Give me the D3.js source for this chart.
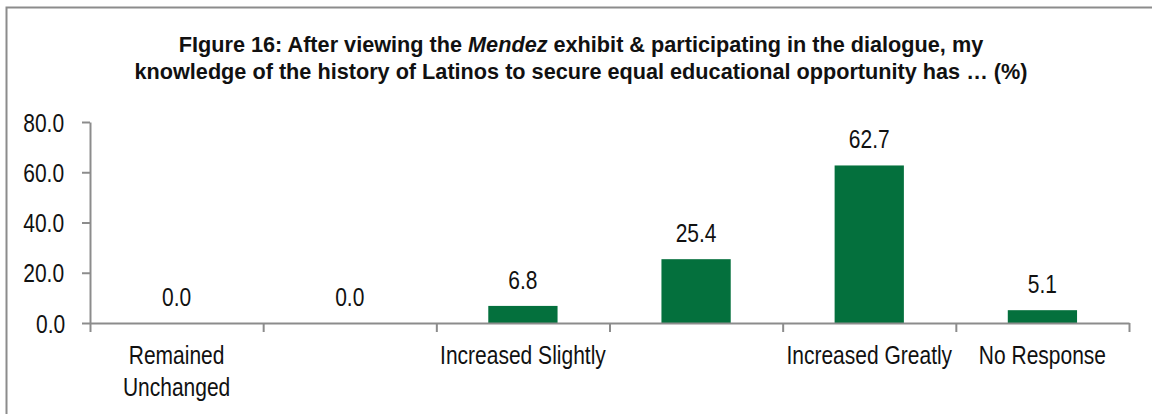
<!DOCTYPE html>
<html>
<head>
<meta charset="utf-8">
<script src="https://cdn.jsdelivr.net/npm/d3@7"></script>
<style>
  body { margin: 0; background: #fff; }
  svg text { font-family: "Liberation Sans", Arial, sans-serif; fill: #111; }
  .sq { transform-box: fill-box; transform-origin: center; transform: scaleX(0.84); }
  .tq { transform-box: fill-box; transform-origin: center; transform: scaleX(0.985); }
</style>
</head>
<body>
<svg id="chart" width="1152" height="414"></svg>
<script>
/*************************Data********************* */
const categories = ["Remained Unchanged", "", "Increased Slightly", "", "Increased Greatly", "No Response"];
const values = [0.0, 0.0, 6.8, 25.4, 62.7, 5.1];
const yTicks = [0, 20, 40, 60, 80];
const titleLines = [
  [["FIgure 16: After viewing the ", false], ["Mendez", true], [" exhibit & participating in the dialogue, my", false]],
  [["knowledge of the history of Latinos to secure equal educational opportunity has \u2026 (%)", false]],
];

/*************************Scales********************* */
const plotLeft = 90, plotRight = 1129, plotTop = 122, plotBottom = 323;
const svg = d3.select("svg#chart");
const grey = "#8c8c8c";

// frame
svg.append("rect").attr("x", 6.5).attr("y", 7.5).attr("width", 1170).attr("height", 430)
  .attr("fill", "none").attr("stroke", grey).attr("stroke-width", 2);

const x = d3.scaleBand().domain(d3.range(categories.length)).range([plotLeft, plotRight]).paddingInner(0.6).paddingOuter(0.3);
const xEdges = d3.scaleLinear().domain([0, categories.length]).range([plotLeft, plotRight]);
const y = d3.scaleLinear().domain([0, 80]).range([plotBottom, plotTop]);

/*************************Title********************* */
const title = svg.append("g").attr("class", "title");
titleLines.forEach((parts, i) => {
  const t = title.append("text").attr("class", "tq").attr("x", 581).attr("y", 52 + i * 27.5)
    .attr("text-anchor", "middle").style("font-size", "22px").style("font-weight", "bold");
  parts.forEach(([s, it]) => t.append("tspan").text(s).style("font-style", it ? "italic" : "normal"));
});

/*************************Axes********************* */
const yAxis = d3.axisLeft(y).tickValues(yTicks).tickFormat(d3.format(".1f")).tickSize(8).tickPadding(14).tickSizeOuter(0);
const gy = svg.append("g").attr("transform", `translate(${plotLeft},0)`).call(yAxis);
gy.select(".domain").attr("stroke", grey).attr("stroke-width", 2);
gy.selectAll(".tick line").attr("stroke", grey).attr("stroke-width", 2);
gy.selectAll(".tick text").attr("class", "sq").style("font-size", "25px").attr("dy", "0.36em");

// bars
svg.append("g").selectAll("rect")
  .data(values)
  .join("rect")
  .attr("x", (_, i) => x(i))
  .attr("width", x.bandwidth())
  .attr("y", (d) => y(d))
  .attr("height", (d) => y(0) - y(d))
  .attr("fill", "#04703d");

const xAxis = d3.axisBottom(xEdges).ticks(categories.length).tickFormat("").tickSize(9).tickSizeOuter(0);
const gx = svg.append("g").attr("transform", `translate(0,${plotBottom})`).call(xAxis);
gx.select(".domain").attr("stroke", grey).attr("stroke-width", 2);
gx.selectAll(".tick line").attr("stroke", grey).attr("stroke-width", 2);

// category labels
const catLines = (c) => (c === "Remained Unchanged" ? ["Remained", "Unchanged"] : [c]);
svg.append("g").selectAll("text")
  .data(categories)
  .join("text")
  .attr("class", "sq")
  .attr("text-anchor", "middle")
  .style("font-size", "25px")
  .each(function (d, i) {
    catLines(d).forEach((line, j) => {
      d3.select(this).append("tspan").attr("x", x(i) + x.bandwidth() / 2).attr("y", 364 + j * 32).text(line);
    });
  });

// value labels
svg.append("g").selectAll("text")
  .data(values)
  .join("text")
  .attr("class", "sq")
  .attr("text-anchor", "middle")
  .style("font-size", "25px")
  .attr("x", (_, i) => x(i) + x.bandwidth() / 2)
  .attr("y", (d) => y(d) - 17)
  .text((d) => d3.format(".1f")(d));
</script>
</body>
</html>
